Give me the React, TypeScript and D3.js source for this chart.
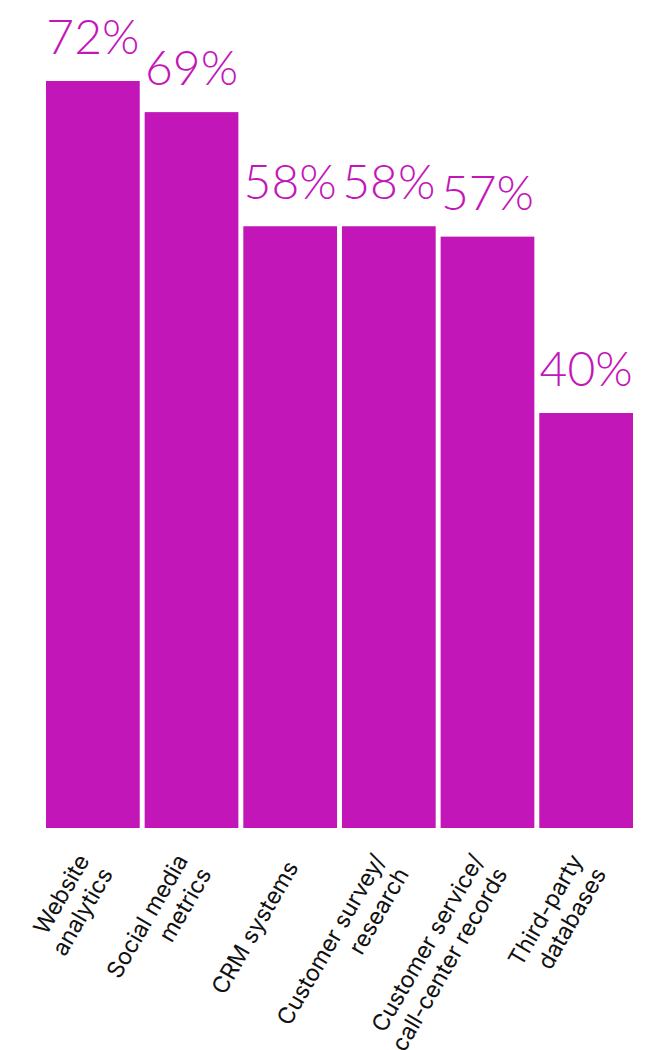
import React from "react";
import * as d3 from "d3";

const categories: string[][] = [
  ["Website", "analytics"],
  ["Social media", "metrics"],
  ["CRM systems"],
  ["Customer survey/", "research"],
  ["Customer service/", "call-center records"],
  ["Third-party", "databases"],
];
const values: number[] = [72, 69, 58, 58, 57, 40];
const valueLabels: string[] = ["72%", "69%", "58%", "58%", "57%", "40%"];

const W = 650;
const H = 1050;
const COLOR = "#c316b9";

export default function App() {
  const idx = categories.map((_, i) => String(i));
  const x = d3.scaleBand<string>().domain(idx).range([46, 633]).paddingInner(0.05).paddingOuter(0);
  const y = d3.scaleLinear().domain([0, 72]).range([828, 81]);
  const lineH = 27;
  return (
    <svg width={W} height={H} style={{ position: "absolute", left: 0, top: 0 }}>
      <rect x={0} y={0} width={W} height={H} fill="#fff" />
      {values.map((v, i) => (
        <rect
          key={"b" + i}
          x={x(String(i))!}
          y={y(v)}
          width={x.bandwidth()}
          height={y(0) - y(v)}
          fill={COLOR}
        />
      ))}
      {values.map((v, i) => (
        <text
          key={"v" + i}
          x={x(String(i))! + x.bandwidth() / 2}
          y={y(v) - 27}
          textAnchor="middle"
          fontFamily="'Lato Light', Lato, sans-serif"
          fontWeight={300}
          fontSize={48}
          fill={COLOR}
        >
          {valueLabels[i]}
        </text>
      ))}
      {categories.map((lines, i) => {
        const cx = x(String(i))! + x.bandwidth() / 2 + 2;
        const cy = 863;
        const n = lines.length;
        return (
          <text
            key={"c" + i}
            transform={`translate(${cx},${cy}) rotate(-60)`}
            textAnchor="end"
            fontFamily="Inter, 'Noto Sans', sans-serif"
            fontSize={23}
            fill="#111"
          >
            {lines.map((l, j) => (
              <tspan key={j} x={0} y={(j - (n - 1) / 2) * lineH + 8}>
                {l}
              </tspan>
            ))}
          </text>
        );
      })}
    </svg>
  );
}
